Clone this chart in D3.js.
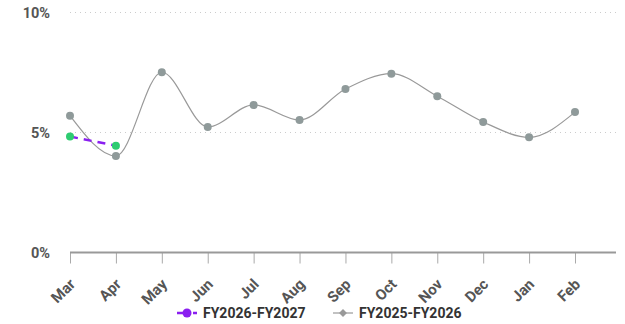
<!DOCTYPE html>
<html><head><meta charset="utf-8">
<script src="https://cdn.jsdelivr.net/npm/d3@7"></script>
<style>body{margin:0;background:#fff}svg{display:block;font-family:Roboto,sans-serif}</style>
</head><body><svg id="c" width="625" height="324"></svg>
<script>
const months = ["Mar","Apr","May","Jun","Jul","Aug","Sep","Oct","Nov","Dec","Jan","Feb"];
const fy2627 = [4.83, 4.45];
const fy2526 = [5.70, 4.02, 7.51, 5.23, 6.15, 5.52, 6.81, 7.45, 6.51, 5.44, 4.80, 5.85];
const yTicks = [0, 5, 10];
const seriesNames = ["FY2026-FY2027", "FY2025-FY2026"];

const svg = d3.select("#c");
const x = d3.scalePoint().domain(months).range([70, 575]);
const y = d3.scaleLinear().domain([0, 10]).range([252.5, 12.5]);
const left = 70, right = 616;

// grid
svg.append("g").selectAll("line").data(yTicks.filter(d => d > 0)).join("line")
  .attr("x1", left).attr("x2", right).attr("y1", d => y(d)).attr("y2", d => y(d))
  .attr("stroke", "#ccc").attr("stroke-width", 1).attr("stroke-dasharray", "1,4");

// y labels
svg.append("g").selectAll("text").data(yTicks).join("text")
  .attr("x", 50).attr("y", d => y(d)).attr("dy", "0.35em").attr("text-anchor", "end")
  .attr("font-size", 14.5).attr("font-weight", "bold").attr("fill", "#555")
  .text(d => d + "%");

// x axis
const xa = svg.append("g").attr("transform", `translate(0,${y(0)})`)
  .call(d3.axisBottom(x).tickSize(11).tickSizeOuter(0));
xa.select(".domain").remove();
xa.selectAll(".tick line").attr("stroke", "#aaa").attr("stroke-width", 1);
xa.selectAll(".tick text").attr("font-size", 15).attr("font-weight", "bold").attr("fill", "#555")
  .attr("font-family", "Roboto, sans-serif")
  .attr("text-anchor", "end").attr("transform", "translate(2,29) rotate(-45)").attr("dy", "0.35em").attr("y", 0).attr("x", 0);
svg.append("line").attr("x1", left).attr("x2", right).attr("y1", y(0)).attr("y2", y(0))
  .attr("stroke", "#999").attr("stroke-width", 2);

// gray series
const lineCurve = d3.line().x((d, i) => x(months[i])).y(d => y(d)).curve(d3.curveMonotoneX);
svg.append("path").attr("d", lineCurve(fy2526)).attr("fill", "none").attr("stroke", "#999").attr("stroke-width", 1.2);
svg.append("g").selectAll("circle").data(fy2526).join("circle")
  .attr("cx", (d, i) => x(months[i])).attr("cy", d => y(d)).attr("r", 4).attr("fill", "#8f9a9a");

// purple series
const lineLin = d3.line().x((d, i) => x(months[i])).y(d => y(d));
svg.append("path").attr("d", lineLin(fy2627)).attr("fill", "none").attr("stroke", "#8a1ff0")
  .attr("stroke-width", 2.5).attr("stroke-dasharray", "8,6");
svg.append("g").selectAll("circle").data(fy2627).join("circle")
  .attr("cx", (d, i) => x(months[i])).attr("cy", d => y(d)).attr("r", 4).attr("fill", "#2ecc71");

// legend
const lg = svg.append("g").attr("transform", "translate(0,313)");
lg.append("line").attr("x1", 177).attr("x2", 197).attr("y1", 0).attr("y2", 0)
  .attr("stroke", "#8a1ff0").attr("stroke-width", 2.5).attr("stroke-dasharray", "6,2");
lg.append("circle").attr("cx", 187).attr("cy", 0).attr("r", 4.5).attr("fill", "#8a1ff0");
lg.append("text").attr("x", 203).attr("y", 0).attr("dy", "0.35em").attr("font-size", 14)
  .attr("font-weight", "bold").attr("fill", "#333").text(seriesNames[0]);
lg.append("line").attr("x1", 333).attr("x2", 353).attr("y1", 0).attr("y2", 0)
  .attr("stroke", "#999").attr("stroke-width", 1.2);
lg.append("path").attr("d", d3.symbol(d3.symbolDiamond2, 40)()).attr("transform", "translate(343,0)").attr("fill", "#999");
lg.append("text").attr("x", 359).attr("y", 0).attr("dy", "0.35em").attr("font-size", 14)
  .attr("font-weight", "bold").attr("fill", "#333").text(seriesNames[1]);
</script></body></html>
